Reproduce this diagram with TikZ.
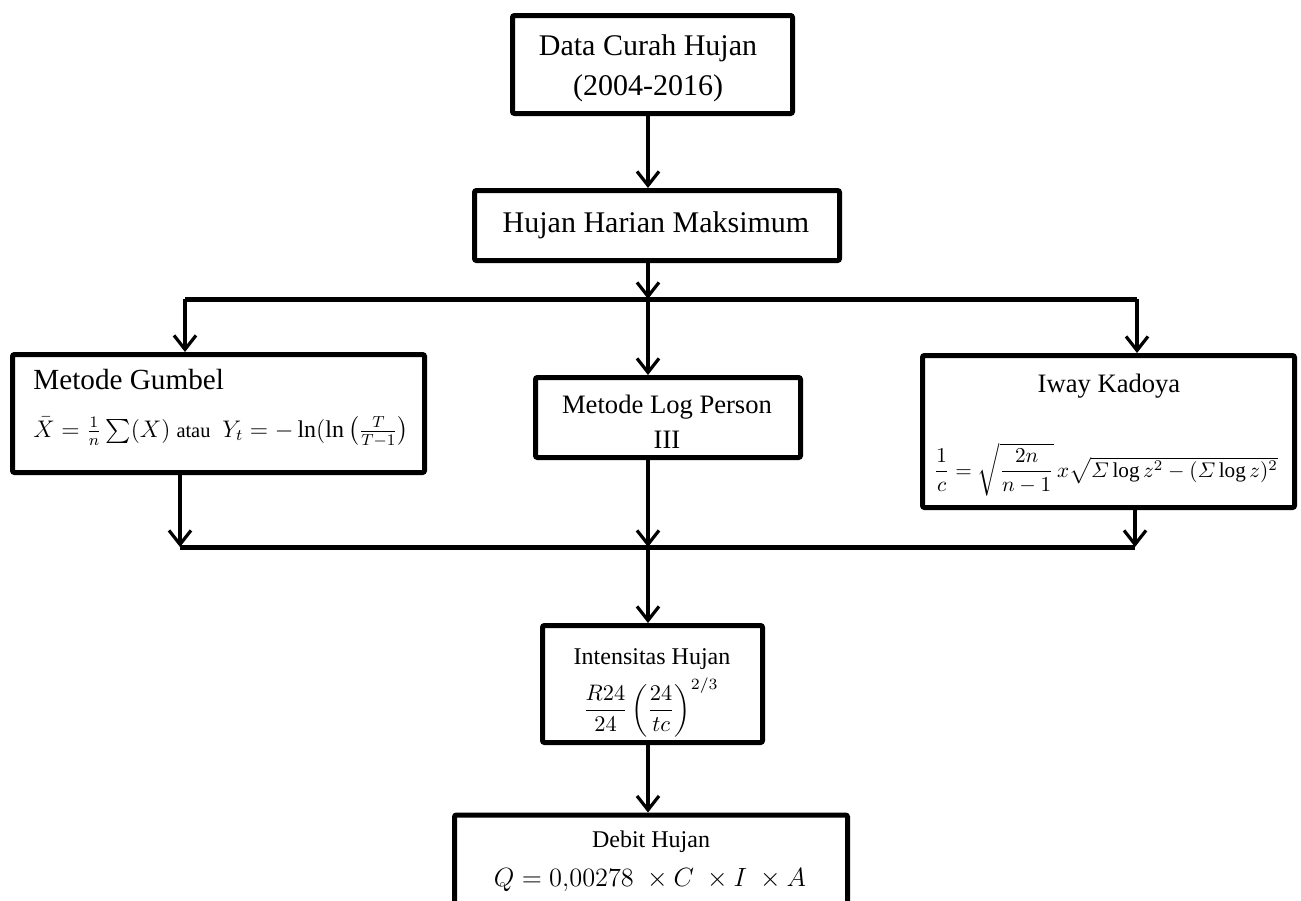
\documentclass[tikz,border=0pt]{standalone}
\usepackage{fix-cm}
\usepackage{amsmath}
\usepackage{fontspec}
\setmainfont{Liberation Serif}
\usetikzlibrary{arrows.meta}
\begin{document}
\begin{tikzpicture}[x=0.5pt,y=-0.5pt,
  box/.style={draw, line width=2.5pt, rounded corners=1pt, inner sep=0pt},
  hline/.style={line width=2.5pt},
  arr/.style={line width=1.6pt, -{Straight Barb[length=7pt,width=11pt]}},
  txt/.style={inner sep=0pt, anchor=base},
  txtl/.style={inner sep=0pt, anchor=base west},
  fA/.style={font=\fontsize{15}{18}\selectfont},
  fB/.style={font=\fontsize{13.3}{16}\selectfont},
  fC/.style={font=\fontsize{12}{14}\selectfont}]
\useasboundingbox (0,0) rectangle (1301,900);
\clip (0,0) rectangle (1301,900);
% boxes
\node[box, minimum width=140pt, minimum height=49pt] (data) at (652.5,64.5) {};
\node[box, minimum width=182.5pt, minimum height=35pt] (hhm) at (657,225.5) {};
\node[box, minimum width=206pt, minimum height=59pt] (gumbel) at (218.5,413.5) {};
\node[box, minimum width=132.5pt, minimum height=40pt] (logp) at (668,417.5) {};
\node[box, minimum width=186pt, minimum height=76pt] (iway) at (1108.5,431.5) {};
\node[box, minimum width=110pt, minimum height=58.5pt] (intens) at (652.5,684) {};
\node[box, minimum width=196.5pt, minimum height=70pt] (debit) at (651,885) {};
% texts
\node[txt, fA] (d1) at (648,55) {Data Curah Hujan};
\node[txt, fA] (d2) at (648,95) {(2004-2016)};
\node[txt, fA] (h1) at (656,232) {Hujan Harian Maksimum};
\node[txtl, font=\fontsize{14.6}{17}\selectfont] (g1) at (33,389) {Metode Gumbel};
\node[txtl, font=\fontsize{12}{14}\selectfont] (g2) at (33,437)
  {$\bar{X}=\frac{1}{n}\sum(X)$ {\fontsize{10.2}{12}\selectfont atau}\ \ $Y_t=-\ln(\ln\left(\frac{T}{T-1}\right)$};
\node[txt, fB] (l1) at (667,413) {Metode Log Person};
\node[txt, fB] (l2) at (667,448) {III};
\node[txt, fB] (i1) at (1109,392) {Iway Kadoya};
\node[txt, font=\fontsize{10.6}{12}\selectfont] (i2) at (1106,477)
  {$\dfrac{1}{c}=\sqrt{\dfrac{2n}{n-1}}\,x\sqrt{\varSigma\log z^2-(\varSigma\log z)^2}$};
\node[txt, fC] (n1) at (652,664) {Intensitas Hujan};
\node[txt, font=\fontsize{11.2}{13}\selectfont] (n2) at (651,716)
  {$\dfrac{R24}{24}\left(\dfrac{24}{tc}\right)^{2/3}$};
\node[txt, fC] (b1) at (651,847) {Debit Hujan};
\node[txt, font=\fontsize{13.2}{16}\selectfont] (b2) at (650,886)
  {$Q=0{,}00278\;\times C\;\times I\;\times A$};
% connector coordinates
\coordinate (cx) at (648,0);
\coordinate (tl) at (185,299);
\coordinate (tm) at (648,299);
\coordinate (tr) at (1137,299);
\coordinate (bl) at (180,547);
\coordinate (bm) at (648,547);
\coordinate (br) at (1135,547);
% connectors
\draw[arr] (data.south -| cx) -- (hhm.north -| cx);
\draw[arr] (hhm.south -| cx) -- (tm);
\draw[hline] (tl) -- (tr);
\draw[arr] (tl) -- (tl |- gumbel.north);
\draw[arr] (tm) -- (tm |- logp.north);
\draw[arr] (tr) -- (tr |- iway.north);
\draw[arr] (bl |- gumbel.south) -- (bl);
\draw[arr] (bm |- logp.south) -- (bm);
\draw[arr] (br |- iway.south) -- (br);
\draw[hline] (bl) -- (br);
\draw[arr] (bm) -- (bm |- intens.north);
\draw[arr] (intens.south -| cx) -- (debit.north -| cx);
\end{tikzpicture}
\end{document}
